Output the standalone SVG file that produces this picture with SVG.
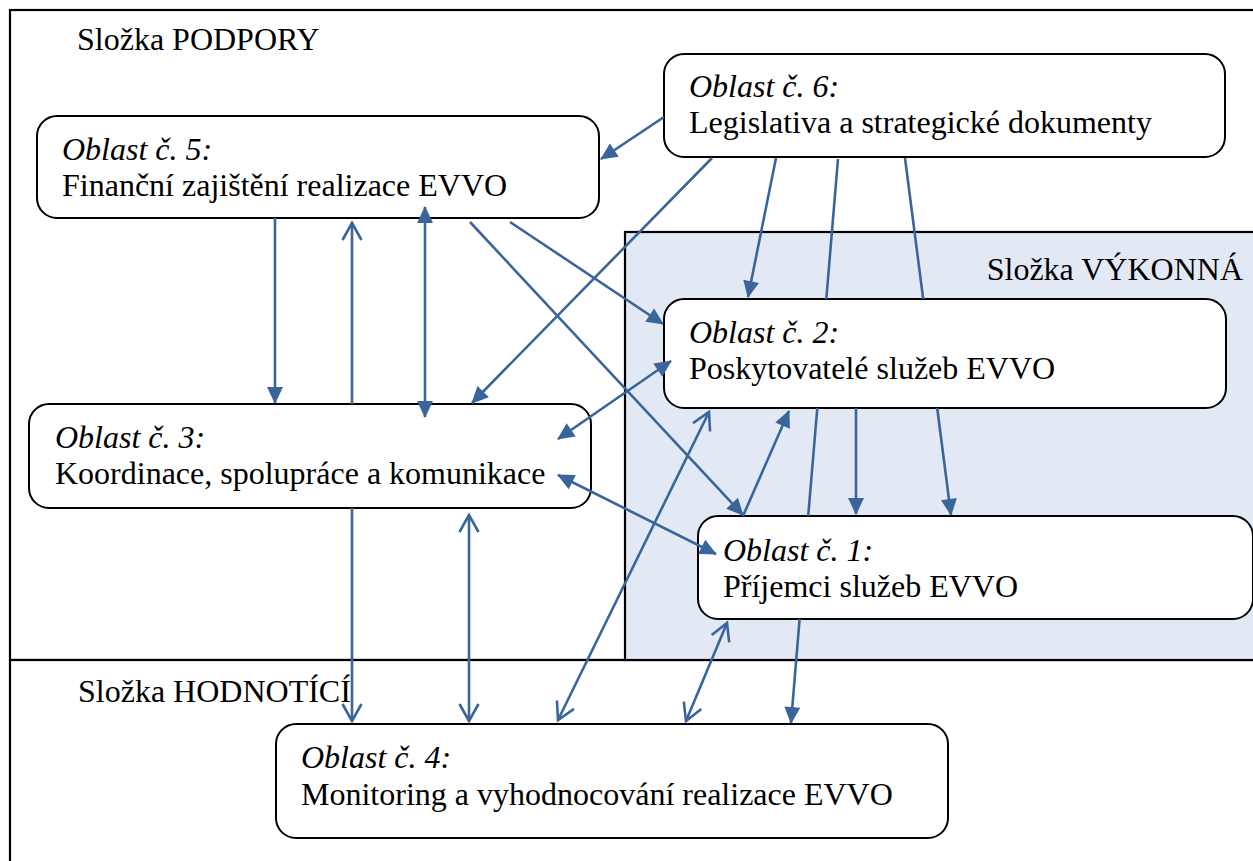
<svg xmlns="http://www.w3.org/2000/svg" width="1253" height="861" viewBox="0 0 1253 861">
<style>
.frame{fill:#ffffff;stroke:#000000;stroke-width:2.2}
.vyk{fill:#e3e9f4;stroke:#000000;stroke-width:2.2}
.node{fill:#ffffff;stroke:#000000;stroke-width:2}
text{font-family:"Liberation Serif","Times New Roman",serif;font-size:32px;fill:#000000}
.it{font-style:italic}
.c{fill:none;stroke:#39659a;stroke-width:2.6}
</style>
<defs>
<marker id="af" markerUnits="userSpaceOnUse" viewBox="0 0 17 17" markerWidth="17" markerHeight="17" refX="16" refY="8.5" orient="auto-start-reverse" overflow="visible">
<path d="M0,0.5 L17,8.5 L0,16.5 z" fill="#39659a"/>
</marker>
<marker id="ao" markerUnits="userSpaceOnUse" viewBox="0 0 20 20" markerWidth="20" markerHeight="20" refX="17" refY="10" orient="auto-start-reverse" overflow="visible">
<path d="M0,0.5 L17,10 L0,19.5" fill="none" stroke="#39659a" stroke-width="2.6"/>
</marker>
</defs>
<g id="zones">
<rect class="frame" x="10" y="10" width="1270" height="650"/>
<rect class="frame" x="10" y="660" width="1270" height="230"/>
<rect class="vyk" x="625" y="232" width="660" height="428"/>
<text x="77" y="50">Složka PODPORY</text>
<text x="1243" y="280" text-anchor="end">Složka VÝKONNÁ</text>
<text x="78" y="702">Složka HODNOTÍCÍ</text>
</g>
<g id="oblast5">
<rect class="node" x="37" y="116" width="562" height="102" rx="20"/>
<text class="it" x="62" y="160">Oblast č. 5:</text>
<text x="62" y="196">Finanční zajištění realizace EVVO</text>
</g>
<g id="oblast6">
<rect class="node" x="664" y="54" width="561" height="103" rx="20"/>
<text class="it" x="689" y="97">Oblast č. 6:</text>
<text x="689" y="133">Legislativa a strategické dokumenty</text>
</g>
<g id="oblast2">
<rect class="node" x="664" y="299" width="562" height="109" rx="20"/>
<text class="it" x="689" y="343">Oblast č. 2:</text>
<text x="689" y="379">Poskytovatelé služeb EVVO</text>
</g>
<g id="oblast3">
<rect class="node" x="29" y="404" width="562" height="104" rx="20"/>
<text class="it" x="55" y="448">Oblast č. 3:</text>
<text x="55" y="484">Koordinace, spolupráce a komunikace</text>
</g>
<g id="oblast1">
<rect class="node" x="698" y="516" width="555" height="103" rx="20"/>
<text class="it" x="723" y="561">Oblast č. 1:</text>
<text x="723" y="597">Příjemci služeb EVVO</text>
</g>
<g id="oblast4">
<rect class="node" x="276" y="724" width="672" height="114" rx="20"/>
<text class="it" x="301" y="768">Oblast č. 4:</text>
<text x="301" y="805">Monitoring a vyhodnocování realizace EVVO</text>
</g>
<g id="connectors">
<path class="c" d="M664,117 L601,159" marker-end="url(#af)"/>
<path class="c" d="M712,158 L472,403" marker-end="url(#af)"/>
<path class="c" d="M776,158 L748,297" marker-end="url(#af)"/>
<path class="c" d="M838,159 L826.3,299 M817.3,408 L808.2,516 M799.6,619 L791,723" marker-end="url(#af)"/>
<path class="c" d="M905,158 L923.2,299 M937.2,408 L951,515" marker-end="url(#af)"/>
<path class="c" d="M275,218 L275,403" marker-end="url(#af)"/>
<path class="c" d="M352,404 L352,223" marker-end="url(#ao)"/>
<path class="c" d="M425,207 L425,417" marker-start="url(#af)" marker-end="url(#af)"/>
<path class="c" d="M470,222 L743,515" marker-end="url(#af)"/>
<path class="c" d="M510,222 L663,324" marker-end="url(#af)"/>
<path class="c" d="M558,439 L671,361" marker-start="url(#af)" marker-end="url(#af)"/>
<path class="c" d="M558,475 L716,554" marker-start="url(#af)" marker-end="url(#af)"/>
<path class="c" d="M352,508 L352,721" marker-end="url(#ao)"/>
<path class="c" d="M469,515 L469,721" marker-start="url(#ao)" marker-end="url(#ao)"/>
<path class="c" d="M709,412 L558,720" marker-start="url(#ao)" marker-end="url(#ao)"/>
<path class="c" d="M743,516 L789,411" marker-end="url(#af)"/>
<path class="c" d="M856,408 L856,514" marker-end="url(#af)"/>
<path class="c" d="M727,623 L686,721" marker-start="url(#ao)" marker-end="url(#ao)"/>
</g>
</svg>
